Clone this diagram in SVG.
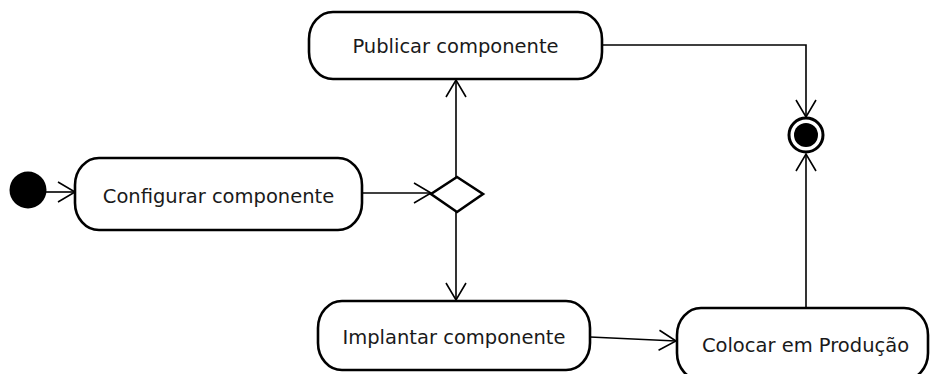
<svg xmlns="http://www.w3.org/2000/svg" width="930" height="374" viewBox="0 0 930 374">
  <style>
    .node { fill: #ffffff; stroke: #000000; stroke-width: 2.6; }
    .label { font-family: "DejaVu Sans", "Liberation Sans", sans-serif; font-size: 19.5px; fill: #1a1a1a; text-anchor: middle; }
    .edge { fill: none; stroke: #000000; stroke-width: 1.6; }
  </style>
  <defs>
    <marker id="arrow" viewBox="-20 -13 22 26" refX="0" refY="0" markerWidth="22" markerHeight="26" markerUnits="userSpaceOnUse" orient="auto">
      <path d="M-17,-10 L0,0 L-17,10" fill="none" stroke="#000000" stroke-width="1.6"/>
    </marker>
  </defs>
  <rect width="930" height="374" fill="#ffffff"/>

  <g id="connectors">
    <line class="edge" x1="46" y1="192" x2="75" y2="192" marker-end="url(#arrow)"/>
    <line class="edge" x1="362" y1="193" x2="431" y2="193" marker-end="url(#arrow)"/>
    <line class="edge" x1="456" y1="177" x2="456" y2="80" marker-end="url(#arrow)"/>
    <line class="edge" x1="456" y1="212" x2="456" y2="300" marker-end="url(#arrow)"/>
    <line class="edge" x1="590" y1="337" x2="676" y2="341" marker-end="url(#arrow)"/>
    <polyline class="edge" points="602,45 806,45 806,117" marker-end="url(#arrow)"/>
    <line class="edge" x1="806" y1="308" x2="806" y2="154" marker-end="url(#arrow)"/>
  </g>

  <g id="initial">
    <circle cx="28" cy="190" r="18.5" fill="#000000"/>
  </g>

  <g id="configurar">
    <rect class="node" x="75" y="158" width="287" height="72" rx="24" ry="27"/>
    <text class="label" x="218.5" y="203">Configurar componente</text>
  </g>

  <g id="decision">
    <polygon class="node" points="457,177 483,194 457,212 431,194" stroke-width="3"/>
  </g>

  <g id="publicar">
    <rect class="node" x="309" y="12" width="293" height="67" rx="24" ry="27"/>
    <text class="label" x="455.5" y="53">Publicar componente</text>
  </g>

  <g id="implantar">
    <rect class="node" x="318" y="301" width="272" height="69" rx="24" ry="27"/>
    <text class="label" x="454" y="344">Implantar componente</text>
  </g>

  <g id="colocar">
    <rect class="node" x="677" y="308" width="251" height="72" rx="24" ry="27"/>
    <text class="label" x="805.5" y="352">Colocar em Produção</text>
  </g>

  <g id="final">
    <circle cx="806" cy="135" r="17" fill="#ffffff" stroke="#000000" stroke-width="3"/>
    <circle cx="806" cy="135" r="12" fill="#000000"/>
  </g>
</svg>
